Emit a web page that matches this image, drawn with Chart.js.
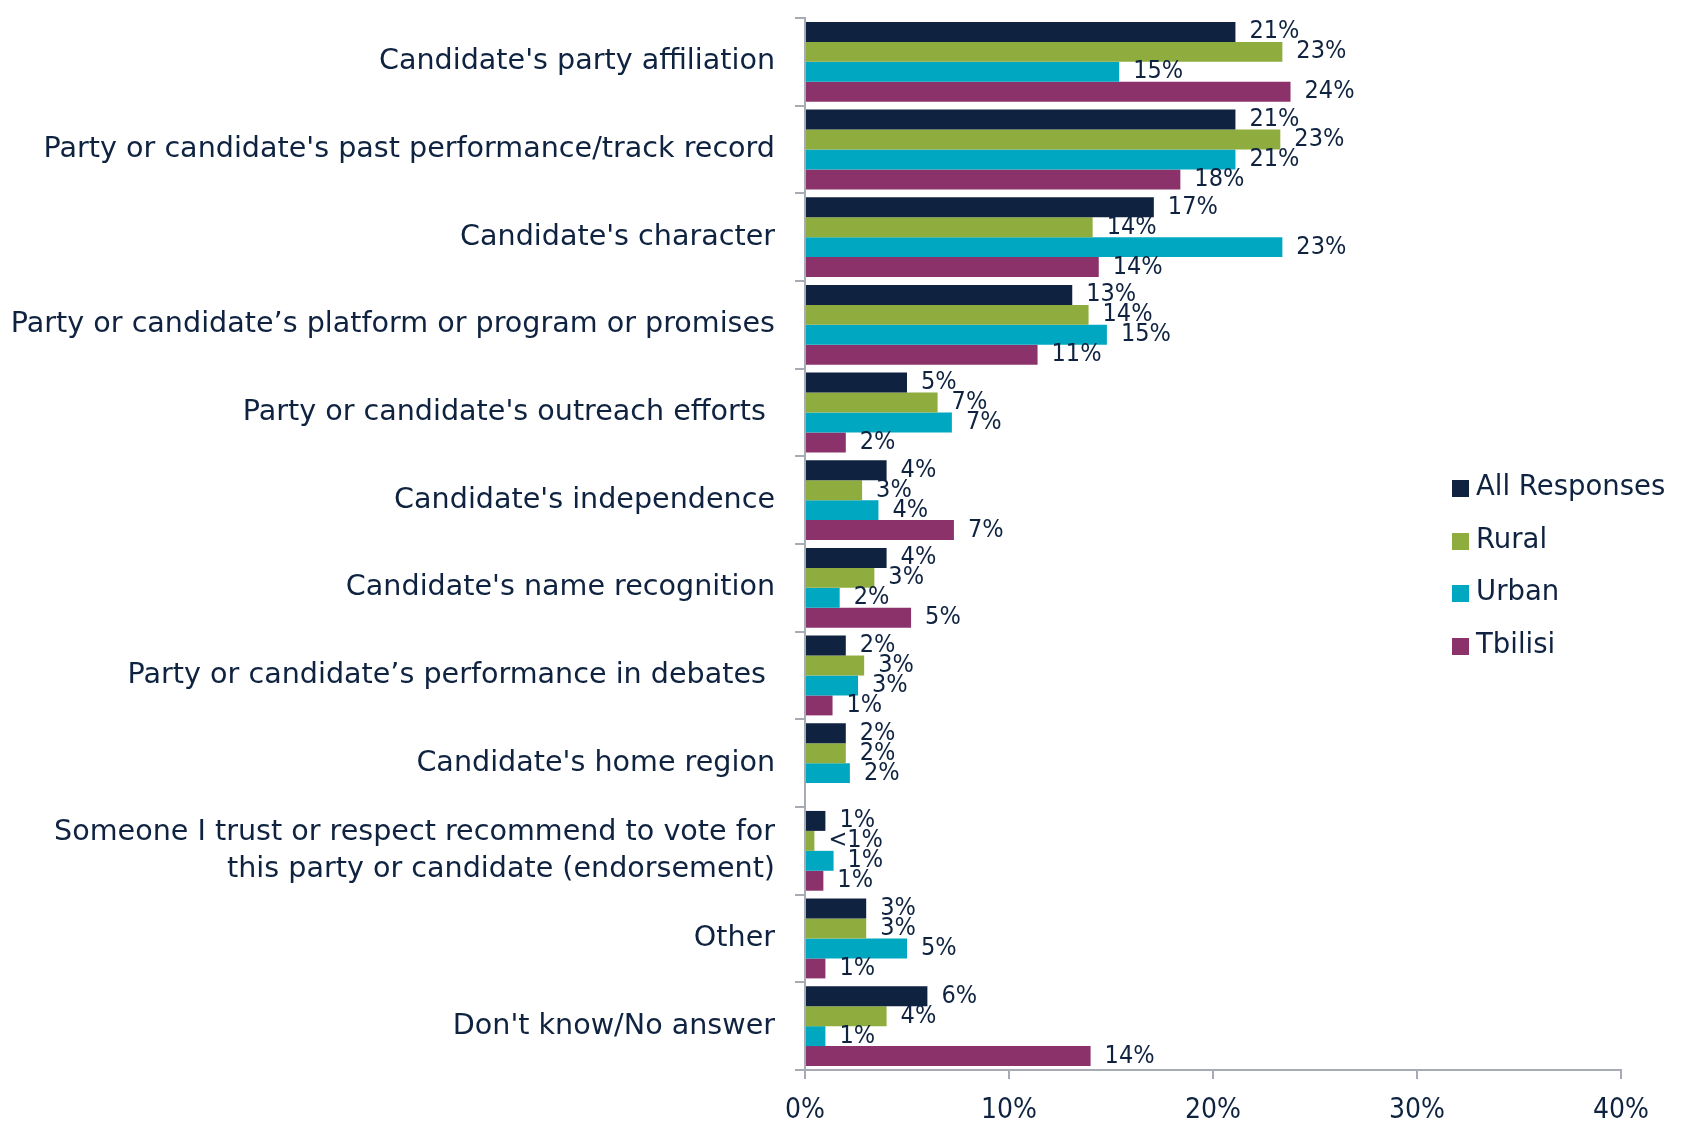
<!DOCTYPE html>
<html>
<head>
<meta charset="utf-8">
<script src="https://cdn.jsdelivr.net/npm/chart.js@4.4.1/dist/chart.umd.min.js"></script>
<style>
  html, body { margin: 0; padding: 0; background: #ffffff; }
  #wrap { position: relative; width: 1688px; height: 1124px; }
</style>
</head>
<body>
<div id="wrap"><canvas id="c" width="1688" height="1124"></canvas></div>
<script>
const categories = [
  "Candidate's party affiliation",
  "Party or candidate's past performance/track record",
  "Candidate's character",
  "Party or candidate’s platform or program or promises",
  "Party or candidate's outreach efforts ",
  "Candidate's independence",
  "Candidate's name recognition",
  "Party or candidate’s performance in debates ",
  "Candidate's home region",
  ["Someone I trust or respect recommend to vote for", "this party or candidate (endorsement)"],
  "Other",
  "Don't know/No answer"
];
const seriesNames = ["All Responses", "Rural", "Urban", "Tbilisi"];
const allResponses = [21.1, 21.1, 17.1, 13.1, 5.0, 4.0, 4.0, 2.0, 2.0, 1.0, 3.0, 6.0];
const rural        = [23.4, 23.3, 14.1, 13.9, 6.5, 2.8, 3.4, 2.9, 2.0, 0.46, 3.0, 4.0];
const urban        = [15.4, 21.1, 23.4, 14.8, 7.2, 3.6, 1.7, 2.6, 2.2, 1.4, 5.0, 1.0];
const tbilisi      = [23.8, 18.4, 14.4, 11.4, 2.0, 7.3, 5.2, 1.35, null, 0.9, 1.0, 14.0];
const xTicks = [0, 10, 20, 30, 40];

const colors = ["#0f2340", "#8fad3f", "#00a7c1", "#8b326a"];
const textColor = "#0f2340";
const axisColor = "#a7abb4";
const FONT = "'DejaVu Sans', sans-serif";
const FONT_NARROW = "'DejaVu Sans Condensed', 'DejaVu Sans', sans-serif";

function fmt(v) {
  if (v === null || v === undefined) return "";
  if (v < 0.5) return "<1%";
  return Math.round(v) + "%";
}

const dataLabelPlugin = {
  id: "dataLabels",
  afterDatasetsDraw(chart) {
    const ctx = chart.ctx;
    ctx.save();
    ctx.font = "25px " + FONT_NARROW;
    ctx.fillStyle = textColor;
    ctx.textAlign = "left";
    ctx.textBaseline = "middle";
    chart.data.datasets.forEach((ds, di) => {
      const meta = chart.getDatasetMeta(di);
      meta.data.forEach((bar, i) => {
        const v = ds.data[i];
        if (v === null || v === undefined) return;
        ctx.fillText(fmt(v), bar.x + 14, bar.y);
      });
    });
    ctx.restore();
  }
};

const legendPlugin = {
  id: "customLegend",
  afterDraw(chart) {
    const ctx = chart.ctx;
    ctx.save();
    ctx.font = "27.5px " + FONT;
    ctx.textAlign = "left";
    ctx.textBaseline = "middle";
    const x0 = 1452;
    const ys = [488, 541, 593, 646];
    chart.data.datasets.forEach((ds, i) => {
      ctx.fillStyle = ds.backgroundColor;
      ctx.fillRect(x0, ys[i] - 8, 17, 17);
      ctx.fillStyle = textColor;
      ctx.fillText(ds.label, x0 + 24, ys[i]);
    });
    ctx.restore();
  }
};

const datasets = [allResponses, rural, urban, tbilisi].map((arr, i) => ({
  label: seriesNames[i],
  data: arr,
  backgroundColor: colors[i],
  borderWidth: 0,
  categoryPercentage: 0.91,
  barPercentage: 1.0
}));

new Chart(document.getElementById("c"), {
  type: "bar",
  data: { labels: categories, datasets },
  options: {
    indexAxis: "y",
    responsive: false,
    animation: false,
    devicePixelRatio: 1,
    layout: { padding: { top: 18, right: 67, bottom: 0, left: 0 } },
    plugins: { legend: { display: false }, tooltip: { enabled: false } },
    scales: {
      x: {
        min: 0, max: 40,
        afterBuildTicks(scale) { scale.ticks = xTicks.map(v => ({ value: v })); },
        afterFit(scale) { scale.height = 1124 - 1070; scale.paddingLeft = 0; scale.paddingRight = 0; },
        ticks: {
          callback: v => v + "%",
          color: textColor,
          font: { size: 28, family: FONT_NARROW },
          padding: 15,
          maxRotation: 0
        },
        grid: {
          drawOnChartArea: false,
          drawTicks: true,
          tickLength: 9,
          color: axisColor,
          lineWidth: 2
        },
        border: { display: true, color: axisColor, width: 2 }
      },
      y: {
        afterFit(scale) { scale.width = 805; scale.paddingTop = 0; scale.paddingBottom = 0; },
        ticks: {
          color: textColor,
          font: { size: 28.6, family: FONT, lineHeight: 1.28 },
          padding: 20,
          autoSkip: false
        },
        grid: {
          offset: true,
          drawOnChartArea: false,
          drawTicks: true,
          tickLength: 10,
          color: axisColor,
          lineWidth: 2
        },
        border: { display: true, color: axisColor, width: 2 }
      }
    }
  },
  plugins: [dataLabelPlugin, legendPlugin]
});
</script>
</body>
</html>
